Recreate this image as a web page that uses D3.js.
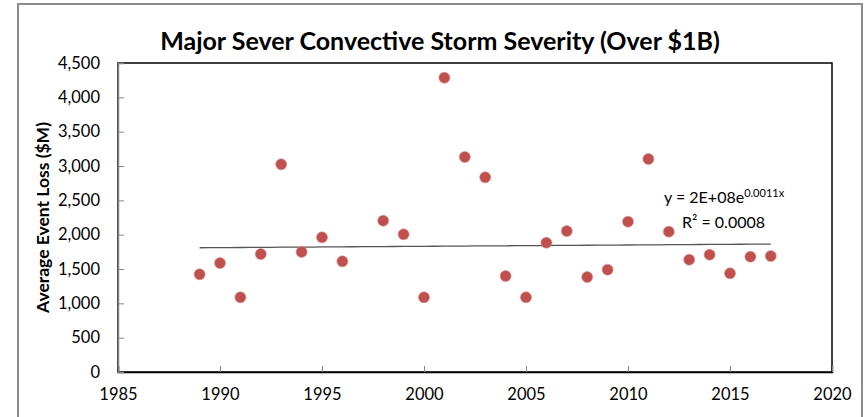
<!DOCTYPE html>
<html>
<head>
<meta charset="utf-8">
<script src="https://cdn.jsdelivr.net/npm/d3@7"></script>
<style>
  body { margin: 0; background: #fff; }
  svg { display: block; font-family: Lato, "Open Sans", sans-serif; }
</style>
</head>
<body>
<div id="chart-area"></div>
<script>
const WIDTH = 866,
    HEIGHT = 417,
    MARGIN = {top: 63, right: 34, bottom: 45, left: 118},
    DOT_R = 5.5,
    COLOR_DOT = '#c0504d',
    COLOR_TREND = '#555',
    COLOR_AXIS = '#868686',
    COLOR_TEXT = '#000';

// data (1997 has no point)
const years = [1989, 1990, 1991, 1992, 1993, 1994, 1995, 1996,
    1998, 1999, 2000, 2001, 2002, 2003, 2004, 2005, 2006, 2007,
    2008, 2009, 2010, 2011, 2012, 2013, 2014, 2015, 2016, 2017];
const losses = [1423, 1587, 1088, 1718, 3025, 1748, 1961, 1612,
    2204, 2005, 1088, 4286, 3131, 2835, 1398, 1088, 1883, 2053,
    1383, 1490, 2189, 3102, 2044, 1636, 1709, 1437, 1679, 1689];
const xTicks = [1985, 1990, 1995, 2000, 2005, 2010, 2015, 2020];
const yTicks = [0, 500, 1000, 1500, 2000, 2500, 3000, 3500, 4000, 4500];

const title = 'Major Sever Convective Storm Severity (Over $1B)';
const yTitle = 'Average Event Loss ($M)';

const points = years.map((y, i) => ({year: y, loss: losses[i]}));

// exponential trendline, least squares on ln(y)
function expFit(pts) {
    const mx = d3.mean(pts, d => d.year);
    const my = d3.mean(pts, d => Math.log(d.loss));
    const b = d3.sum(pts, d => (d.year - mx) * (Math.log(d.loss) - my)) /
        d3.sum(pts, d => (d.year - mx) ** 2);
    const a = my - b * mx;
    return x => Math.exp(a + b * x);
}
const trend = expFit(points);

const svg = d3.select('#chart-area')
    .append('svg')
    .attr('width', WIDTH)
    .attr('height', HEIGHT);

// outer chart frame
svg.append('rect')
    .attr('x', 18).attr('y', 4)
    .attr('width', 844).attr('height', 460)
    .attr('fill', '#fff')
    .attr('stroke', '#8c8c8c')
    .attr('stroke-width', 2);

const x = d3.scaleLinear()
    .domain([1985, 2020])
    .range([MARGIN.left, WIDTH - MARGIN.right]);

const y = d3.scaleLinear()
    .domain([0, 4500])
    .range([HEIGHT - MARGIN.bottom, MARGIN.top]);

// plot area border
svg.append('rect')
    .attr('x', x(1985)).attr('y', y(4500))
    .attr('width', x(2020) - x(1985))
    .attr('height', y(0) - y(4500))
    .attr('fill', 'none')
    .attr('stroke', '#000')
    .attr('stroke-width', 1.5);

// x axis, ticks pointing inward
const xAxis = svg.append('g')
    .attr('transform', `translate(0,${y(0)})`)
    .call(d3.axisBottom(x).tickValues(xTicks).tickFormat(d3.format('d')).tickSize(-6).tickPadding(16));
xAxis.select('.domain').attr('stroke', '#000').attr('stroke-width', 1.5);
xAxis.selectAll('.tick line').attr('stroke', COLOR_AXIS);
xAxis.selectAll('.tick text')
    .attr('font-size', 16.5)
    .attr('fill', COLOR_TEXT)
    .attr('font-family', 'Lato, sans-serif');

// y axis, ticks pointing inward
const yAxis = svg.append('g')
    .attr('transform', `translate(${x(1985)},0)`)
    .call(d3.axisLeft(y).tickValues(yTicks).tickFormat(d3.format(',')).tickSize(-6).tickPadding(18));
yAxis.select('.domain').attr('stroke', COLOR_AXIS).attr('stroke-width', 1.5);
yAxis.selectAll('.tick line').attr('stroke', COLOR_AXIS);
yAxis.selectAll('.tick text')
    .attr('font-size', 16.5)
    .attr('fill', COLOR_TEXT)
    .attr('font-family', 'Lato, sans-serif');

// trendline
const trendYears = d3.range(years[0], years[years.length - 1] + 0.01, 0.5);
svg.append('path')
    .datum(trendYears)
    .attr('fill', 'none')
    .attr('stroke', COLOR_TREND)
    .attr('stroke-width', 1.3)
    .attr('d', d3.line().x(d => x(d)).y(d => y(trend(d))));

// points
svg.append('g')
    .selectAll('circle')
    .data(points)
    .join('circle')
    .attr('cx', d => x(d.year))
    .attr('cy', d => y(d.loss))
    .attr('r', DOT_R)
    .attr('fill', COLOR_DOT)
    .attr('stroke', '#d98b89')
    .attr('stroke-width', 0.6);

// trendline label
const eq = svg.append('text')
    .attr('x', 664).attr('y', 203)
    .attr('font-size', 16)
    .attr('fill', COLOR_TEXT);
eq.append('tspan').text('y = 2E+08e');
eq.append('tspan').attr('font-size', 11).attr('dy', -6).text('0.0011x');

svg.append('text')
    .attr('x', 682).attr('y', 228)
    .attr('font-size', 16)
    .attr('fill', COLOR_TEXT)
    .text('R² = 0.0008');

// titles
svg.append('text')
    .attr('x', 440).attr('y', 50)
    .attr('text-anchor', 'middle')
    .attr('font-size', 25)
    .attr('font-weight', 'bold')
    .attr('fill', COLOR_TEXT)
    .text(title);

svg.append('text')
    .attr('transform', `translate(49,${(y(0) + y(4500)) / 2}) rotate(-90)`)
    .attr('text-anchor', 'middle')
    .attr('font-size', 17.5)
    .attr('font-weight', 'bold')
    .attr('fill', COLOR_TEXT)
    .text(yTitle);
</script>
</body>
</html>
